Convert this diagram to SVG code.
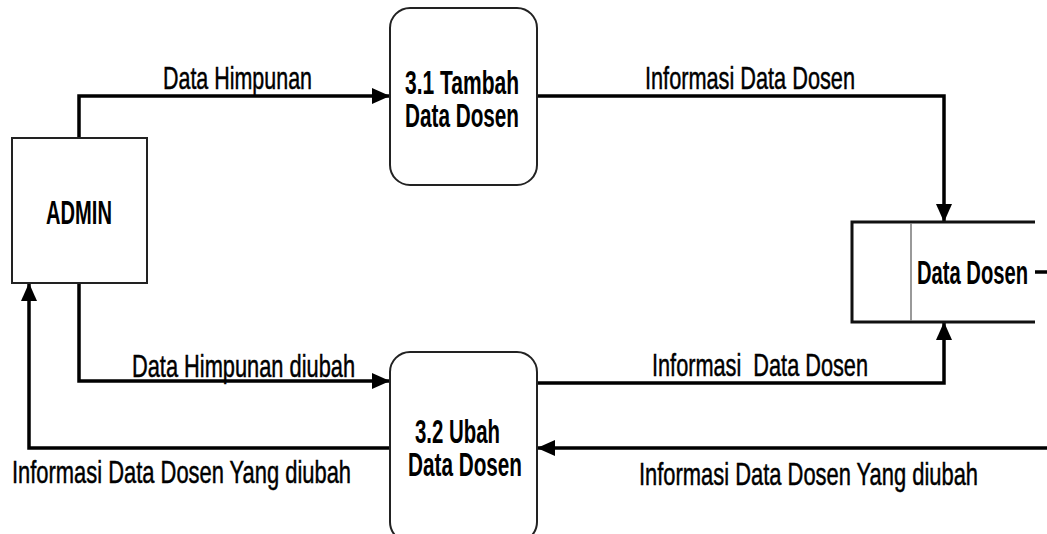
<svg xmlns="http://www.w3.org/2000/svg" width="1047" height="534" viewBox="0 0 1047 534">
  <defs>
    <style>
      .box { fill: #ffffff; stroke: #222222; stroke-width: 2; }
      .proc { fill: #ffffff; stroke: #222222; stroke-width: 2; }
      .store-line { stroke: #111111; stroke-width: 3; fill: none; }
      .divider { stroke: #777777; stroke-width: 1.5; }
      .flow { stroke: #000000; stroke-width: 3.5; fill: none; stroke-linejoin: miter; }
      .node-text { font-family: "Liberation Sans Narrow", "Liberation Sans", Arial, sans-serif; font-size: 34px; font-weight: bold; fill: #000000; }
      .label { font-family: "Liberation Sans Narrow", "Liberation Sans", Arial, sans-serif; font-size: 32px; fill: #000000; stroke: #000000; stroke-width: 0.5; white-space: pre; }
    </style>
    <marker id="arrow" markerUnits="userSpaceOnUse" markerWidth="18" markerHeight="16" refX="18" refY="8" orient="auto">
      <path d="M0,0 L18,8 L0,16 Z" fill="#000000"/>
    </marker>
  </defs>

  <rect width="1047" height="534" fill="#ffffff"/>

  <!-- data flows -->
  <g id="connectors">
    <path class="flow" d="M79,138 L79,96 L390,96" marker-end="url(#arrow)"/>
    <path class="flow" d="M537,96 L944,96 L944,222" marker-end="url(#arrow)"/>
    <path class="flow" d="M79,283 L79,381 L390,381" marker-end="url(#arrow)"/>
    <path class="flow" d="M537,383 L944,383 L944,322" marker-end="url(#arrow)"/>
    <path class="flow" d="M1047,448 L537,448" marker-end="url(#arrow)"/>
    <path class="flow" d="M390,448 L29,448 L29,283" marker-end="url(#arrow)"/>
    <path class="flow" d="M1032,272 L1047,272"/>

    <text class="label" x="163" y="89" textLength="149" lengthAdjust="spacingAndGlyphs">Data Himpunan</text>
    <text class="label" x="645" y="89" textLength="210" lengthAdjust="spacingAndGlyphs">Informasi Data Dosen</text>
    <text class="label" x="132" y="377" textLength="223" lengthAdjust="spacingAndGlyphs">Data Himpunan diubah</text>
    <text class="label" x="652" y="376" textLength="216" lengthAdjust="spacingAndGlyphs" xml:space="preserve">Informasi  Data Dosen</text>
    <text class="label" x="12" y="483" textLength="339" lengthAdjust="spacingAndGlyphs">Informasi Data Dosen Yang diubah</text>
    <text class="label" x="639" y="485" textLength="339" lengthAdjust="spacingAndGlyphs">Informasi Data Dosen Yang diubah</text>
  </g>

  <!-- external entity -->
  <g id="admin">
    <rect class="box" x="12" y="138" width="135" height="145"/>
    <text class="node-text" x="46" y="224" textLength="66" lengthAdjust="spacingAndGlyphs">ADMIN</text>
  </g>

  <!-- process 3.1 -->
  <g id="proc-3-1">
    <rect class="proc" x="390" y="8" width="147" height="177" rx="20" ry="20"/>
    <text class="node-text" x="405" y="94" textLength="114" lengthAdjust="spacingAndGlyphs">3.1 Tambah</text>
    <text class="node-text" x="405" y="127" textLength="114" lengthAdjust="spacingAndGlyphs">Data Dosen</text>
  </g>

  <!-- process 3.2 -->
  <g id="proc-3-2">
    <rect class="proc" x="390" y="352" width="147" height="190" rx="20" ry="20"/>
    <text class="node-text" x="415" y="443" textLength="85" lengthAdjust="spacingAndGlyphs">3.2 Ubah</text>
    <text class="node-text" x="408" y="476" textLength="114" lengthAdjust="spacingAndGlyphs">Data Dosen</text>
  </g>

  <!-- data store -->
  <g id="store-data-dosen">
    <rect x="852" y="222" width="183" height="100" fill="#ffffff"/>
    <path class="store-line" d="M1035,222 L852,222 L852,322 L1035,322"/>
    <line class="divider" x1="911" y1="223" x2="911" y2="321"/>
    <text class="node-text" x="917" y="284" textLength="111" lengthAdjust="spacingAndGlyphs">Data Dosen</text>
  </g>
</svg>
